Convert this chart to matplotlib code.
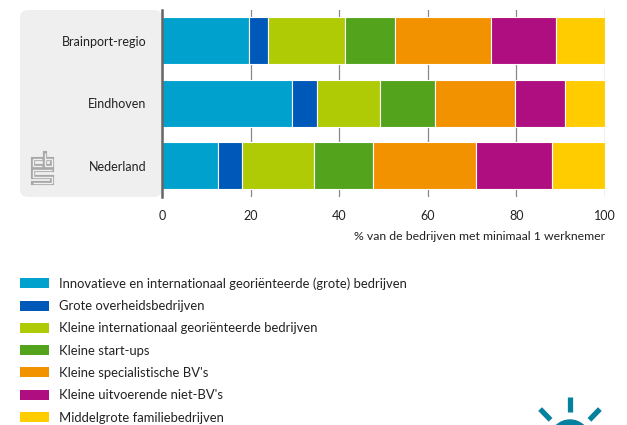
import matplotlib
matplotlib.use("Agg")
import matplotlib.pyplot as plt
import numpy as np
from matplotlib.patches import FancyBboxPatch, Patch, Circle

plt.rcParams['font.family'] = ['Lato', 'DejaVu Sans']

regions = ['Brainport-regio', 'Eindhoven', 'Nederland']
categories = [
    'Innovatieve en internationaal georiënteerde (grote) bedrijven',
    'Grote overheidsbedrijven',
    'Kleine internationaal georiënteerde bedrijven',
    'Kleine start-ups',
    "Kleine specialistische BV's",
    "Kleine uitvoerende niet-BV's",
    'Middelgrote familiebedrijven',
]
brainport = [19.6, 4.3, 17.4, 11.4, 21.6, 14.6, 11.1]
eindhoven = [29.3, 5.8, 14.2, 12.4, 17.9, 11.3, 9.1]
nederland = [12.7, 5.4, 16.1, 13.4, 23.2, 17.2, 12.0]
colors = ['#00A1CD', '#0058B8', '#AFCB05', '#53A31D', '#F39200', '#AF0E80', '#FFCC00']
xticks = [0, 20, 40, 60, 80, 100]

W, H = 627, 425
fig = plt.figure(figsize=(W / 100, H / 100), dpi=100)


def fx(px):
    return px / W


def fy(py):
    return 1 - py / H


# background layer in pixel coordinates (panel + logos)
bg = fig.add_axes([0, 0, 1, 1], zorder=-1)
bg.set_xlim(0, W)
bg.set_ylim(H, 0)
bg.axis('off')

panel = FancyBboxPatch((20, 10), 162 - 20, 187,
                       boxstyle='round,pad=0,rounding_size=8',
                       facecolor='#EFEFEF', edgecolor='none')
bg.add_patch(panel)

# simplified cbs logo (hollow strokes)
logo = [
    [(42, 159), (33, 159), (33, 166), (42, 166)],
    [(45, 153), (45, 166), (52, 166), (52, 159), (45, 159)],
    [(52, 170), (33, 170), (33, 176.5), (52, 176.5), (52, 183), (33, 183)],
]
for s in logo:
    xs = [p[0] for p in s]
    ys = [p[1] for p in s]
    bg.plot(xs, ys, color='#A8A8A8', linewidth=3.0, solid_joinstyle='miter',
            solid_capstyle='projecting')
    bg.plot(xs, ys, color='#EFEFEF', linewidth=1.0, solid_joinstyle='miter',
            solid_capstyle='butt')

# partial logo in the bottom right corner
teal = '#0581A0'
cx, cy = 570, 440
for ang in [90, 134, 46]:
    a = np.deg2rad(ang)
    r0, r1 = 28, 43
    bg.plot([cx + r0 * np.cos(a), cx + r1 * np.cos(a)],
            [cy - r0 * np.sin(a), cy - r1 * np.sin(a)],
            color=teal, linewidth=3.8, solid_capstyle='butt')
bg.add_patch(Circle((cx, cy), 20, color=teal))

ax = fig.add_axes([fx(162), fy(197), fx(605) - fx(162), fy(10) - fy(197)])
ax.set_facecolor('none')

data = np.array([brainport, eindhoven, nederland])
ypos = np.arange(len(regions))
left = np.zeros(len(regions))
for i, cat in enumerate(categories):
    ax.barh(ypos, data[:, i], left=left, height=0.75, color=colors[i],
            edgecolor='white', linewidth=0.8, label=cat, zorder=2)
    left += data[:, i]

ax.set_xlim(0, 100)
ax.set_ylim(2.5, -0.49)
ax.set_xticks(xticks)
ax.set_yticks(ypos)
ax.set_yticklabels(regions, fontsize=9, color='#222222')
ax.tick_params(axis='y', length=0, pad=11)
ax.tick_params(axis='x', length=0, pad=9, labelsize=9, labelcolor='#222222')
for s in ['top', 'right', 'bottom']:
    ax.spines[s].set_visible(False)
ax.spines['left'].set_color('#666666')
ax.spines['left'].set_linewidth(1.8)
ax.spines['left'].set_zorder(3)
ax.grid(axis='x', color='#888888', linewidth=0.9, zorder=0)
ax.set_axisbelow(True)

fig.text(fx(605), fy(237), '% van de bedrijven met minimaal 1 werknemer',
         ha='right', va='center', fontsize=8.8, color='#222222')

# legend
handles = [Patch(facecolor=c, edgecolor='none') for c in colors]
fig.legend(handles, categories, loc='upper left',
           bbox_to_anchor=(fx(15), fy(272)), frameon=False, fontsize=9.4,
           handlelength=2.2, handleheight=0.8, handletextpad=0.75,
           labelspacing=0.79, borderaxespad=0, labelcolor='#222222')

fig.savefig('out.png', dpi=100)
